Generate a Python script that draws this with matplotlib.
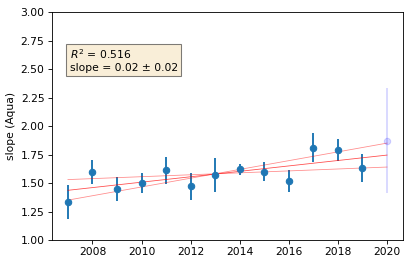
import matplotlib
matplotlib.use("Agg")
import matplotlib.pyplot as plt
import numpy as np

# yearly slope values (Aqua) with 1-sigma errors
years = [2007, 2008, 2009, 2010, 2011, 2012, 2013, 2014, 2015, 2016, 2017, 2018, 2019]
slope = [1.33, 1.60, 1.45, 1.50, 1.61, 1.47, 1.57, 1.62, 1.60, 1.52, 1.81, 1.79, 1.63]
err = [0.15, 0.105, 0.105, 0.09, 0.115, 0.115, 0.145, 0.05, 0.08, 0.095, 0.125, 0.10, 0.125]

# 2020 point (partial year, shown faded)
year_new = [2020]
slope_new = [1.87]
err_new = [0.46]

# fit line and slope bounds, values at first and last year
fit_x = [2007, 2020]
fit_mid = [1.436, 1.745]
fit_hi = [1.35, 1.85]
fit_lo = [1.53, 1.64]

r2 = 0.516
fit_slope, fit_slope_err = 0.02, 0.02

dpi = 77
fig = plt.figure(figsize=(411 / dpi, 265 / dpi), dpi=dpi)
ax = fig.add_axes([0.1265, 0.0943, 0.854, 0.8604])

ax.errorbar(years, slope, yerr=err, fmt='o', color='tab:blue', elinewidth=1.8)
ax.errorbar(year_new, slope_new, yerr=err_new, fmt='o', color='b', alpha=0.15, elinewidth=1.8)

ax.plot(fit_x, fit_mid, color='red', lw=0.75, alpha=0.7)
ax.plot(fit_x, fit_hi, color='red', lw=0.75, alpha=0.45)
ax.plot(fit_x, fit_lo, color='red', lw=0.75, alpha=0.45)

ax.set_ylim(1.0, 3.0)
ax.set_ylabel("slope (Aqua)")

txt = f"$R^2$ = {r2:.3f}\nslope = {fit_slope:.2f} ± {fit_slope_err:.2f}"
ax.text(0.05, 0.845, txt, transform=ax.transAxes, va='top', ha='left',
        bbox=dict(boxstyle='square', facecolor='wheat', alpha=0.5))

fig.savefig("out.png", dpi=dpi)
